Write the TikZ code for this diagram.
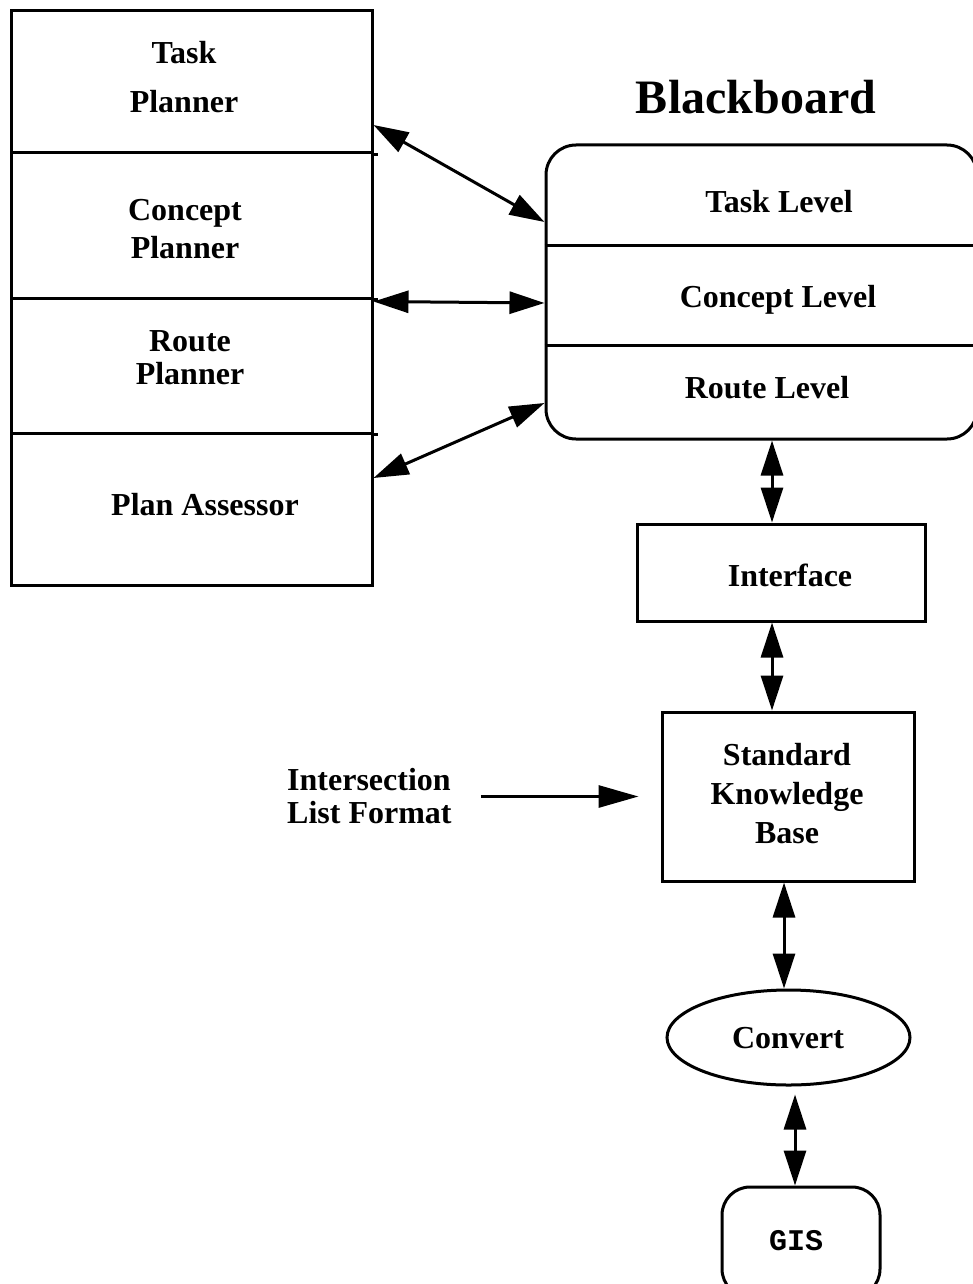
\documentclass[tikz,border=0pt]{standalone}
\usepackage{fontspec}
\setmainfont{Liberation Serif}
\setmonofont{Liberation Mono}
\usetikzlibrary{arrows.meta,shapes.geometric,calc}
\begin{document}
\begin{tikzpicture}[x=1pt,y=-1pt,
  box/.style={draw,line width=3pt,inner sep=0pt},
  lbl/.style={font=\fontsize{32}{33}\selectfont\bfseries,align=center,inner sep=0pt},
  biarrow/.style={line width=3pt,{Triangle[length=35pt,width=22pt]}-{Triangle[length=35pt,width=22pt]}},
  onearrow/.style={line width=3pt,-{Triangle[length=40pt,width=22pt]}}]
\useasboundingbox (0,0) rectangle (973,1284);

% planner stack
\node[box,minimum width=361pt,minimum height=142pt] (taskp) at (191.5,82) {};
\node[box,minimum width=361pt,minimum height=145pt] (conceptp) at (191.5,225.5) {};
\node[box,minimum width=361pt,minimum height=135pt] (routep) at (191.5,365.5) {};
\node[box,minimum width=361pt,minimum height=152pt] (assessor) at (191.5,509) {};
\draw[line width=3pt] (taskp.south east) -- ++(4,0);
\draw[line width=3pt] (conceptp.south east) -- ++(4,0);
\draw[line width=3pt] (routep.south east) -- ++(4,0);

\node[lbl] (taskpt) at (184,77.5) {Task\\[16pt]Planner};
\node[lbl] (conceptpt) at (185,229) {Concept\\[5pt]Planner};
\node[lbl] (routept) at (190,357.5) {Route\\Planner};
\node[lbl,anchor=base] (assessort) at (205,515) {Plan Assessor};

% blackboard with its three levels
\node[font=\fontsize{48}{50}\selectfont\bfseries,inner sep=0pt,anchor=base] (title) at (756,114) {Blackboard};
\node[draw,line width=3pt,rounded corners=30pt,minimum width=431pt,minimum height=294pt,inner sep=0pt] (bb) at (761.5,292) {};
\draw[line width=3pt] ([yshift=47pt]bb.west) -- ([yshift=47pt]bb.east);
\draw[line width=3pt] ([yshift=-53pt]bb.west) -- ([yshift=-53pt]bb.east);
\node[lbl,anchor=base] (tasklvl) at (779,212) {Task Level};
\node[lbl,anchor=base] (conclvl) at (778,307) {Concept Level};
\node[lbl,anchor=base] (routelvl) at (767,398) {Route Level};

% lower chain
\node[box,minimum width=288pt,minimum height=97pt] (iface) at (781,572.5) {};
\node[lbl,anchor=base] (ifacet) at (790,586) {Interface};

\node[box,minimum width=252pt,minimum height=169pt] (skb) at (788,796.5) {};
\node[lbl] (skbt) at (787,794) {Standard\\[6pt]Knowledge\\[6pt]Base};

\node[draw,ellipse,line width=3pt,minimum width=243pt,minimum height=95pt,inner sep=0pt] (conv) at (788.5,1037.5) {};
\node[lbl,anchor=base] (convt) at (788,1048) {Convert};

\node[box,rounded corners=28pt,minimum width=158pt,minimum height=110pt] (gis) at (801,1242) {};
\node[font=\fontsize{30}{32}\selectfont\ttfamily\bfseries,inner sep=0pt,anchor=base] (gist) at (796,1250) {GIS};

\node[lbl,align=left,anchor=west] (isec) at (287,796.5) {Intersection\\List Format};

% connectors
\draw[biarrow] ([yshift=-43pt]taskp.east) -- ([yshift=70pt]bb.west);
\draw[biarrow] ([yshift=-5pt]routep.north east) -- ([yshift=-11pt]bb.west);
\draw[biarrow] ([yshift=31pt]assessor.east) -- ([yshift=-111pt]bb.west);

\coordinate (b1) at ([xshift=10.5pt]bb.south);
\draw[biarrow] (b1) -- (b1 |- iface.north);
\coordinate (i1) at ([xshift=-9pt]iface.south);
\draw[biarrow] (i1) -- (i1 |- skb.north);
\coordinate (s1) at ([xshift=-4pt]skb.south);
\draw[biarrow] (s1) -- (s1 |- conv.north);
\coordinate (g1) at ([xshift=-6pt]gis.north);
\coordinate (c1) at ([yshift=-8pt]conv.south);
\draw[biarrow] (g1 |- c1) -- (g1);

\draw[onearrow] ([xshift=29pt]isec.east) -- ([xshift=-22pt]skb.west);
\end{tikzpicture}
\end{document}
